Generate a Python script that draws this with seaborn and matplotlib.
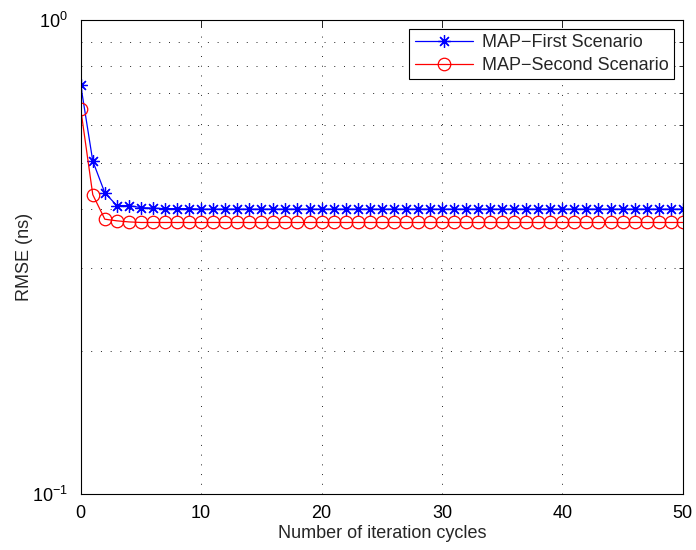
import matplotlib
matplotlib.use("Agg")
import matplotlib.pyplot as plt
import seaborn as sns
import pandas as pd
import numpy as np
from matplotlib.ticker import FixedLocator, NullFormatter

iterations = list(range(0, 51))
first_scenario = [0.729, 0.504, 0.432, 0.406, 0.406, 0.402, 0.401, 0.400, 0.400, 0.400,
                  0.399] + [0.399] * 40
second_scenario = [0.649, 0.428, 0.380, 0.377, 0.375, 0.374, 0.374, 0.374, 0.374, 0.374,
                   0.374] + [0.374] * 40
series_names = ["MAP\u2212First Scenario", "MAP\u2212Second Scenario"]

sns.set_style("white")
plt.rcParams['font.family'] = ['Liberation Sans', 'DejaVu Sans']
plt.rcParams['mathtext.fontset'] = 'custom'
plt.rcParams['mathtext.rm'] = 'Liberation Sans'
plt.rcParams['mathtext.it'] = 'Liberation Sans'

FS = 13

df = pd.DataFrame({
    "iter": iterations * 2,
    "rmse": first_scenario + second_scenario,
    "series": [series_names[0]] * len(iterations) + [series_names[1]] * len(iterations),
})

fig = plt.figure(figsize=(6.96, 5.5), dpi=100)
ax = fig.add_axes([0.116, 0.1018, 0.865, 0.8618])

colors = ["#0000ff", "#ff0000"]
sns.lineplot(data=df, x="iter", y="rmse", hue="series", style="series",
             palette=colors, markers=["*", "o"], dashes=False,
             ax=ax, linewidth=0.9, markersize=9, markeredgewidth=0.9,
             legend=True)
asterisk = (8, 2, 0)
lines = ax.get_lines()[:2]
lines[0].set_marker(asterisk)
for line, c in zip(lines, colors):
    line.set_markeredgecolor(c)
    line.set_markerfacecolor("none")

ax.set_yscale("log")
ax.set_ylim(0.1, 1.0)
ax.set_xlim(0, 50)
ax.set_xticks([0, 10, 20, 30, 40, 50])
ax.yaxis.set_major_locator(FixedLocator([0.1, 1.0]))
ax.set_yticklabels([r"$10^{-1}$", r"$10^{0}$"])
ax.yaxis.set_minor_locator(FixedLocator([0.2, 0.3, 0.4, 0.5, 0.6, 0.7, 0.8, 0.9]))
ax.yaxis.set_minor_formatter(NullFormatter())

grid_style = dict(linestyle=(0, (1, 9)), color="#222222", linewidth=0.7)
ax.grid(True, which="major", axis="both", **grid_style)
ax.grid(True, which="minor", axis="y", **grid_style)

ax.tick_params(axis="both", which="both", direction="in", top=True, right=True,
               labelsize=FS, colors="black")
ax.tick_params(axis="both", which="major", length=5, width=0.6)
ax.tick_params(axis="x", which="major", pad=8)
ax.tick_params(axis="y", which="major", pad=9)
ax.tick_params(axis="y", which="minor", length=3, width=0.6)
for s in ax.spines.values():
    s.set_visible(True)
    s.set_color("black")
    s.set_linewidth(0.8)

ax.set_xlabel("Number of iteration cycles", fontsize=FS, labelpad=2)
ax.set_ylabel("RMSE (ns)", fontsize=FS)
ax.yaxis.set_label_coords(-0.08, 0.5)

leg = ax.legend(loc="upper right", fontsize=FS, frameon=True, fancybox=False,
                edgecolor="black", framealpha=1, borderpad=0.3, labelspacing=0.3,
                handlelength=3.2, borderaxespad=0.5, handletextpad=0.5)
leg.get_frame().set_linewidth(0.8)
handles = leg.legend_handles
handles[0].set_marker(asterisk)
for h, c in zip(handles, colors):
    h.set_markerfacecolor("none")
    h.set_markeredgecolor(c)

fig.savefig("out.png", dpi=100)
